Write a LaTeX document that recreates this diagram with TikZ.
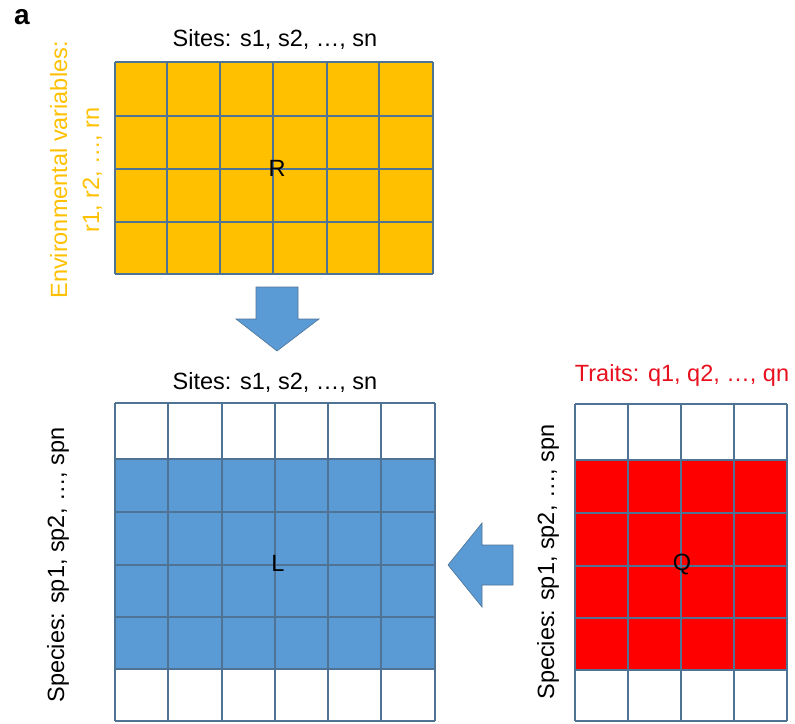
\documentclass[tikz,border=0pt]{standalone}
\usepackage{fontspec}
\setmainfont{Liberation Sans}
\definecolor{amber}{HTML}{FFC000}
\definecolor{lblue}{HTML}{5B9BD5}
\definecolor{gline}{HTML}{4F7395}
\definecolor{qred}{HTML}{FF0000}
\definecolor{tred}{HTML}{E8101E}
\tikzset{
  gridline/.style={draw=gline, line width=1.3pt},
  lbl/.style={inner sep=0pt, font=\fontsize{23.5}{28}\selectfont},
  blockarrow/.style={fill=lblue, draw=gline, line width=0.6pt, line join=miter},
}
\begin{document}
\begin{tikzpicture}[x=1pt,y=-1pt]
\useasboundingbox (0,0) rectangle (795,723);
% panel letter
\node[inner sep=0pt, font=\fontsize{28}{32}\selectfont\bfseries] (a) at (22,17) {a};

% ---- R matrix ----
\fill[amber] (115,62) rectangle (433,274);
\foreach \x in {115,167,220,273,327,379,433} \draw[gridline] (\x,62) -- (\x,274);
\foreach \y in {62,116,169,222,274} \draw[gridline] (115,\y) -- (433,\y);
\node[lbl] (R) at (277,168) {R};
\node[lbl] (sitesR) at (275,39) {Sites: s1, s2, \ldots, sn};
\node[lbl, text=amber, rotate=90, align=center, font=\fontsize{23.5}{32}\selectfont] (envR) at (76,170) {Environmental variables:\\r1, r2, \ldots, rn};

% ---- L matrix ----
\fill[lblue] (115,459) rectangle (435,669);
\foreach \x in {115,168,222,275,328,381,435} \draw[gridline] (\x,403) -- (\x,721);
\foreach \y in {403,459,512,565,617,669,721} \draw[gridline] (115,\y) -- (435,\y);
\node[lbl] (L) at (278,563) {L};
\node[lbl] (sitesL) at (275,382) {Sites: s1, s2, \ldots, sn};
\node[lbl, rotate=90] (spL) at (58,565) {Species: sp1, sp2, \ldots, spn};

% ---- Q matrix ----
\fill[qred] (575,460) rectangle (787,670);
\foreach \x in {575,628,681,734,787} \draw[gridline] (\x,404) -- (\x,721);
\foreach \y in {404,460,513,566,618,670,721} \draw[gridline] (575,\y) -- (787,\y);
\node[lbl] (Q) at (682,565) {Q};
\node[lbl, text=tred] (traits) at (682,375) {Traits: q1, q2, \ldots, qn};
\node[lbl, rotate=90] (spQ) at (548,562) {Species: sp1, sp2, \ldots, spn};

% ---- block arrows ----
\draw[blockarrow] (256,287) -- (298,287) -- (298,319) -- (319,319) -- (277,351) -- (236,319) -- (256,319) -- cycle;
\draw[blockarrow] (513,545) -- (482,545) -- (482,523) -- (448,565) -- (482,607) -- (482,585) -- (513,585) -- cycle;
\end{tikzpicture}
\end{document}
